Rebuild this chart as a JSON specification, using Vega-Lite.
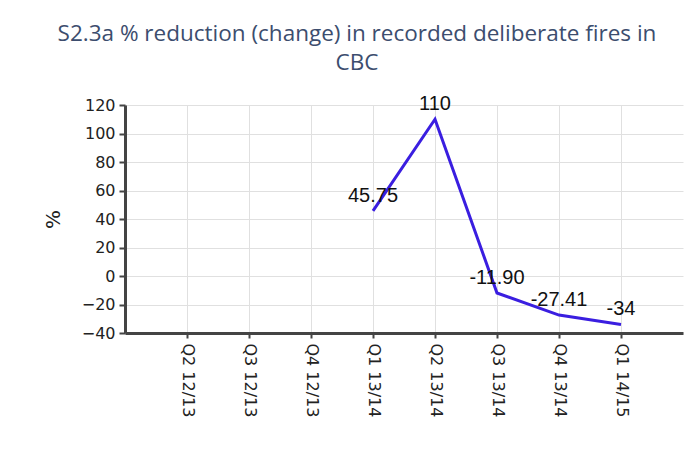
{
  "$schema": "https://vega.github.io/schema/vega-lite/v6.json",
  "autosize": "none",
  "width": 558,
  "height": 228,
  "padding": {"left": 125, "top": 105, "right": 11, "bottom": 126},
  "background": "white",
  "title": {
    "text": ["S2.3a % reduction (change) in recorded deliberate fires in", "CBC"],
    "anchor": "middle",
    "dx": -47,
    "font": "Open Sans",
    "fontSize": 22.5,
    "fontWeight": "normal",
    "lineHeight": 29,
    "color": "#3c4d6e",
    "offset": 20
  },
  "data": {
    "values": [
      {"quarter": "Q2 12/13", "pct": null, "label": ""},
      {"quarter": "Q3 12/13", "pct": null, "label": ""},
      {"quarter": "Q4 12/13", "pct": null, "label": ""},
      {"quarter": "Q1 13/14", "pct": 45.75, "label": "45.75"},
      {"quarter": "Q2 13/14", "pct": 110, "label": "110"},
      {"quarter": "Q3 13/14", "pct": -11.9, "label": "-11.90"},
      {"quarter": "Q4 13/14", "pct": -27.41, "label": "-27.41"},
      {"quarter": "Q1 14/15", "pct": -34, "label": "-34"}
    ]
  },
  "encoding": {
    "x": {
      "field": "quarter",
      "type": "ordinal",
      "sort": null,
      "scale": {"type": "point", "padding": 1, "domain": ["Q2 12/13", "Q3 12/13", "Q4 12/13", "Q1 13/14", "Q2 13/14", "Q3 13/14", "Q4 13/14", "Q1 14/15"]},
      "axis": {
        "title": null,
        "labelAngle": 90,
        "labelAlign": "left",
        "labelBaseline": "middle",
        "labelFont": "DejaVu Sans",
        "labelFontSize": 16,
        "labelColor": "#222",
        "labelPadding": 5,
        "grid": true,
        "gridColor": "#e0e0e0",
        "domainColor": "#444",
        "domainWidth": 3,
        "tickColor": "#444",
        "tickSize": 5,
        "tickWidth": 2
      }
    },
    "y": {
      "field": "pct",
      "type": "quantitative",
      "scale": {"domain": [-40, 120], "nice": false},
      "axis": {
        "title": "%",
        "titleFont": "DejaVu Sans",
        "titleFontSize": 20,
        "titleFontWeight": "normal",
        "titleColor": "#222",
        "titlePadding": 18,
        "values": [-40, -20, 0, 20, 40, 60, 80, 100, 120],
        "labelFont": "DejaVu Sans",
        "labelFontSize": 16,
        "labelColor": "#222",
        "labelPadding": 4,
        "grid": true,
        "gridColor": "#e0e0e0",
        "domainColor": "#444",
        "domainWidth": 3,
        "tickColor": "#444",
        "tickSize": 6,
        "tickWidth": 2
      }
    }
  },
  "layer": [
    {
      "mark": {"type": "line", "color": "#3a1ee0", "strokeWidth": 3}
    },
    {
      "mark": {"type": "text", "font": "Liberation Sans", "fontSize": 20, "color": "#111", "dy": -15, "baseline": "middle"},
      "encoding": {"text": {"field": "label"}}
    }
  ],
  "config": {"view": {"stroke": null}}
}
